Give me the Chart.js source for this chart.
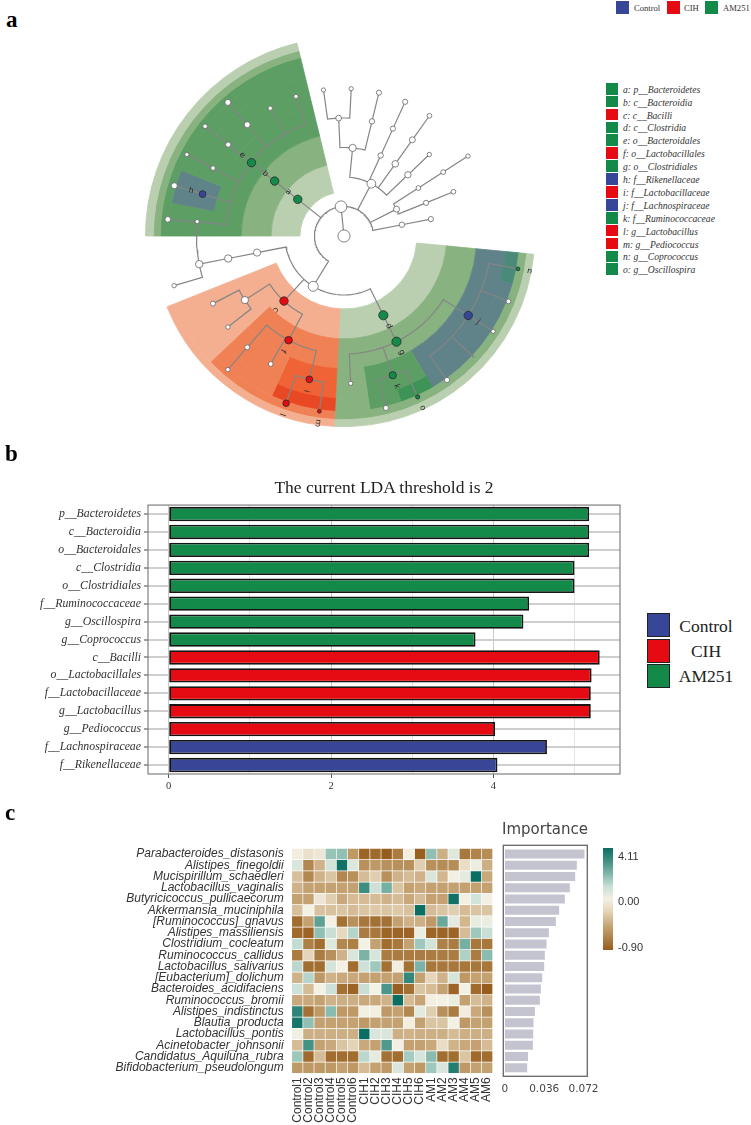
<!DOCTYPE html>
<html>
<head>
<meta charset="utf-8">
<script src="https://cdn.jsdelivr.net/npm/chart.js@4"></script>
<style>
  body { margin: 0; background: #fff; }
  #page { position: relative; width: 751px; height: 1125px; overflow: hidden; }
  canvas { position: absolute; }
  .txt { position: absolute; white-space: nowrap; line-height: 1; }
  .box { position: absolute; }
</style>
</head>
<body>
<div id="page">
  <canvas id="rings" width="398" height="398" style="left:145px;top:37px"></canvas>
  <canvas id="tree" width="398" height="398" style="left:145px;top:37px"></canvas>
  <canvas id="lda" width="640" height="300" style="left:0;top:495px"></canvas>
  <canvas id="heat" width="510" height="285" style="left:0;top:840px"></canvas>
  <canvas id="importance" width="110" height="285" style="left:495px;top:840px"></canvas>
</div>
<script>
// groups
const groups = ['Control', 'CIH', 'AM251'];
const groupColor = { Control: '#374696', CIH: '#e60b12', AM251: '#148a4a' };

// cladogram key
const cladeKey = ['a: p__Bacteroidetes', 'b: c__Bacteroidia', 'c: c__Bacilli', 'd: c__Clostridia', 'e: o__Bacteroidales',
  'f: o__Lactobacillales', 'g: o__Clostridiales', 'h: f__Rikenellaceae', 'i: f__Lactobacillaceae', 'j: f__Lachnospiraceae',
  'k: f__Ruminococcaceae', 'l: g__Lactobacillus', 'm: g__Pediococcus', 'n: g__Coprococcus', 'o: g__Oscillospira'];
const cladeKeyGroup = ['AM251', 'AM251', 'CIH', 'AM251', 'AM251', 'CIH', 'AM251', 'Control', 'CIH', 'Control',
  'AM251', 'CIH', 'CIH', 'AM251', 'AM251'];

// shaded rings, outermost first: where each slice ends (degrees from top) and what it is
const ringEnds = [
  [270, 346.3, 360],
  [95.5, 183, 248.2, 270, 346.3, 360],
  [95.5, 183, 226.7, 248.2, 270, 346.3, 360],
  [95.5, 106, 149.7, 161, 171.5, 183, 204.3, 226.7, 248.2, 270, 281, 292, 346.3, 360],
  [95.5, 149.7, 171.5, 183, 204.3, 226.7, 248.2, 270, 281, 292, 346.3, 360],
  [95.5, 183, 226.7, 248.2, 270, 346.3, 360],
  [95.5, 183, 248.2, 270, 346.3, 360],
  [270, 346.3, 360]
];
const ringKinds = [
  ['', 'L', ''],
  ['', 'L', 'O1', '', 'M', ''],
  ['', 'M', 'O2', 'O1', '', 'D', ''],
  ['', 'T', 'B', 'G', 'D', 'M', 'O4', 'O2', 'O1', '', 'D', 'B', 'D', ''],
  ['', 'B', 'D', 'M', 'O3', 'O2', 'O1', '', 'D', 'B', 'D', ''],
  ['', 'M', 'O2', 'O1', '', 'D', ''],
  ['', 'L', 'O1', '', 'M', ''],
  ['', 'L', '']
];
const ringWidths = [8, 7, 8, 13, 30, 30, 30, 29];

// tree nodes: angle from top, taxonomic level, parent, enriched group, abundance, letter
const nodeAngle = [0, 354.2,
  308.4, 308.4, 308.4, 319, 319, 308.3, 308.3, 330, 341, 297.4, 297.4, 286.5, 286.5, 275.6,
  211.5, 222.7, 237.1, 242.7, 231.9, 208, 221, 221, 209.8, 193.6, 199.1, 188,
  153.6, 153.6, 177.4, 160.7, 166.3, 155.4, 122.6, 144.4, 122.6, 111.7, 100.7, 133,
  259.2, 259, 259, 275.4, 253.7,
  27.6, 5.6, 357.4, 352, 2.8, 13.7, 13.7, 24.5, 24.5, 24.5, 35.4, 35.4, 35.4, 46.2, 46.3,
  62.9, 57.2, 57.2, 57.2, 68, 68, 79, 79];
const nodeLevel = [0, 1,
  2, 3, 4, 5, 6, 5, 6, 5, 5, 5, 6, 5, 6, 5,
  2, 3, 4, 5, 5, 4, 5, 6, 5, 5, 6, 6,
  3, 4, 5, 5, 6, 6, 5, 6, 6, 6, 6, 6,
  3, 4, 5, 6, 6,
  2, 3, 4, 5, 5, 4, 5, 3, 4, 5, 3, 4, 5, 3, 4,
  2, 3, 4, 5, 3, 4, 2, 3];
const nodeParent = [-1, 0,
  1, 2, 3, 4, 5, 4, 7, 4, 4, 4, 11, 4, 13, 4,
  1, 16, 17, 18, 18, 17, 21, 22, 21, 21, 25, 25,
  16, 28, 29, 29, 31, 31, 29, 34, 34, 34, 34, 34,
  16, 40, 41, 42, 42,
  1, 45, 46, 47, 47, 46, 50, 45, 52, 53, 45, 55, 56, 45, 58,
  1, 60, 61, 62, 60, 64, 1, 66];
const nodeGroup = ['', '',
  'AM251', 'AM251', 'AM251', '', '', '', '', '', '', '', '', 'Control', '', '',
  '', 'CIH', '', '', '', 'CIH', '', '', '', 'CIH', 'CIH', 'CIH',
  'AM251', 'AM251', '', 'AM251', '', 'AM251', 'Control', '', '', '', 'AM251', '',
  '', '', '', '', '',
  '', '', '', '', '', '', '', '', '', '', '', '', '', '', '',
  '', '', '', '', '', '', '', ''];
const nodeAbundance = [61, 58,
  42, 42, 42, 30, 30, 26, 23, 22, 22, 23, 21, 34, 30, 21,
  50, 42, 36, 25, 22, 38, 25, 22, 24, 34, 33, 19,
  46, 46, 21, 36, 26, 21, 42, 26, 21, 24, 19, 7,
  36, 37, 37, 28, 22,
  44, 36, 29, 21, 21, 27, 26, 27, 26, 26, 33, 30, 24, 32, 22,
  30, 24, 24, 22, 26, 24, 27, 26];
const nodeLetter = ['', '',
  'a', 'b', 'e', '', '', '', '', '', '', '', '', 'h', '', '',
  '', 'c', '', '', '', 'f', '', '', '', 'i', 'l', 'm',
  'd', 'g', '', 'k', '', 'o', 'j', '', '', '', 'n', ''];
const levelRadius = [0, 29.5, 59, 88.5, 118, 147.5, 177];

// LDA bars
const barTaxa = ['p__Bacteroidetes', 'c__Bacteroidia', 'o__Bacteroidales', 'c__Clostridia', 'o__Clostridiales',
  'f__Ruminococcaceae', 'g__Oscillospira', 'g__Coprococcus', 'c__Bacilli', 'o__Lactobacillales', 'f__Lactobacillaceae',
  'g__Lactobacillus', 'g__Pediococcus', 'f__Lachnospiraceae', 'f__Rikenellaceae'];
const barValues = [5.18, 5.18, 5.18, 5.0, 5.0, 4.44, 4.37, 3.78, 5.31, 5.21, 5.2, 5.2, 4.02, 4.66, 4.05];
const barGroup = ['AM251', 'AM251', 'AM251', 'AM251', 'AM251', 'AM251', 'AM251', 'AM251',
  'CIH', 'CIH', 'CIH', 'CIH', 'CIH', 'Control', 'Control'];
const ldaTicks = [0, 1, 2, 3, 4, 5];

// heatmap
const samples = ['Control1', 'Control2', 'Control3', 'Control4', 'Control5', 'Control6', 'CIH1', 'CIH2', 'CIH3', 'CIH4',
  'CIH5', 'CIH6', 'AM1', 'AM2', 'AM3', 'AM4', 'AM5', 'AM6'];
const species = ['Parabacteroides_distasonis', 'Alistipes_finegoldii', 'Mucispirillum_schaedleri', 'Lactobacillus_vaginalis',
  'Butyricicoccus_pullicaecorum', 'Akkermansia_muciniphila', '[Ruminococcus]_gnavus', 'Alistipes_massiliensis',
  'Clostridium_cocleatum', 'Ruminococcus_callidus', 'Lactobacillus_salivarius', '[Eubacterium]_dolichum',
  'Bacteroides_acidifaciens', 'Ruminococcus_bromii', 'Alistipes_indistinctus', 'Blautia_producta', 'Lactobacillus_pontis',
  'Acinetobacter_johnsonii', 'Candidatus_Aquiluna_rubra', 'Bifidobacterium_pseudolongum'];
const heatValues = [
  [-0.03, -0.12, -0.08, 1.7, 1.8, -0.55, -0.85, -0.82, -0.9, -0.72, -0.03, -0.88, 1.8, -0.42, 0.5, -0.75, -0.68, -0.62],
  [0.6, -0.65, -0.4, 0.8, 4.0, 0.55, -0.6, -0.55, -0.6, -0.6, -0.6, -0.25, -0.6, -0.62, -0.62, -0.15, 0.2, -0.42],
  [-0.33, -0.65, -0.4, -0.3, -0.65, -0.6, -0.35, -0.25, -0.6, -0.4, -0.35, -0.4, 0.6, -0.38, 0.05, 0.4, 4.1, -0.45],
  [-0.4, -0.5, -0.5, -0.5, -0.5, -0.5, 3.1, 0.9, 2.2, -0.3, -0.5, -0.45, -0.5, -0.5, -0.5, -0.5, -0.5, -0.5],
  [-0.5, -0.5, -0.08, -0.25, -0.45, -0.35, -0.35, -0.35, -0.4, -0.35, -0.45, -0.35, -0.5, -0.5, 4.0, 0.08, 0.8, 0.05],
  [-0.33, 0.03, -0.32, -0.32, -0.3, -0.35, -0.3, -0.28, -0.3, -0.28, -0.32, 4.11, -0.35, -0.3, -0.25, -0.35, -0.3, -0.3],
  [-0.8, -0.5, 2.6, 0.0, -0.78, -0.6, -0.75, -0.78, -0.78, -0.5, -0.4, -0.42, -0.55, 2.4, 0.4, -0.38, 0.3, 0.2],
  [-0.82, -0.85, 1.8, 1.0, -0.18, 1.3, -0.72, -0.75, -0.85, -0.85, -0.85, 0.2, -0.85, -0.85, -0.85, -0.35, 1.6, 1.0],
  [1.1, -0.7, -0.8, 0.5, -0.65, -0.7, 0.02, -0.5, -0.8, -0.75, -0.5, 1.6, 0.8, -0.7, -0.72, 2.2, -0.75, -0.75],
  [-0.72, -0.2, -0.72, -0.6, -0.4, 0.6, 2.1, 0.7, -0.72, -0.72, -0.72, -0.72, -0.72, -0.72, -0.72, 1.4, -0.72, 1.9],
  [1.2, -0.8, -0.8, 0.7, 0.02, -0.8, 0.9, 1.6, -0.78, -0.03, -0.78, 2.1, -0.75, -0.75, -0.75, -0.75, -0.75, -0.75],
  [-0.4, 1.3, -0.55, -0.4, -0.45, -0.45, -0.5, -0.5, -0.5, -0.5, 3.3, -0.5, -0.2, -0.4, 0.7, -0.55, -0.5, -0.5],
  [0.9, -0.35, 0.02, 0.9, -0.78, -0.85, 1.0, 0.03, 2.9, -0.88, -0.78, -0.3, -0.35, -0.5, -0.85, 0.02, -0.82, -0.9],
  [-0.45, -0.45, -0.5, -0.4, -0.42, -0.42, -0.45, -0.45, -0.4, 4.11, -0.35, -0.48, -0.02, 0.03, 0.2, -0.5, -0.35, -0.4],
  [3.4, -0.78, -0.55, 1.9, -0.55, -0.55, 0.05, -0.02, -0.55, -0.5, -0.65, 0.4, -0.25, -0.6, -0.72, -0.03, -0.45, -0.6],
  [3.9, 1.8, -0.5, -0.5, -0.5, -0.5, -0.55, -0.5, -0.5, -0.5, -0.02, -0.5, -0.3, -0.3, 0.02, -0.55, -0.5, -0.5],
  [0.1, -0.42, -0.42, -0.42, -0.42, -0.42, 4.11, 0.6, 0.6, -0.42, -0.4, -0.42, -0.42, -0.42, -0.35, -0.42, -0.42, -0.42],
  [-0.35, 3.0, -0.5, -0.45, -0.3, -0.22, -0.45, -0.5, 2.8, 0.05, -0.5, -0.5, -0.45, -0.15, -0.4, -0.45, -0.5, -0.35],
  [1.6, -0.82, -0.35, -0.8, -0.8, -0.8, 1.2, 0.35, -0.78, -0.8, 1.5, 0.7, 1.9, -0.8, -0.8, -0.3, -0.82, -0.8],
  [-0.55, -0.55, -0.55, -0.55, -0.5, -0.55, -0.35, -0.5, -0.55, 0.6, -0.5, -0.55, 1.6, 0.6, 3.6, -0.55, -0.5, -0.5]
];

// importance bars
const importance = [0.0729, 0.0659, 0.0644, 0.0595, 0.0549, 0.0497, 0.0467, 0.0403, 0.0381, 0.0366,
  0.036, 0.0342, 0.0329, 0.032, 0.0275, 0.0262, 0.0259, 0.0256, 0.0211, 0.0204];
const importanceTicks = [0, 0.036, 0.072];
const colorbarLabels = ['4.11', '0.00', '-0.90'];

Chart.defaults.animation = false;
Chart.defaults.responsive = false;
Chart.defaults.maintainAspectRatio = false;
Chart.defaults.plugins.legend.display = false;
Chart.defaults.plugins.tooltip.enabled = false;

const page = document.getElementById('page');
const serif = '"Liberation Serif", serif';
const sans = '"Liberation Sans", sans-serif';
const dejavu = '"DejaVu Sans", sans-serif';

function addText(text, left, top, css) {
  const d = document.createElement('div');
  d.className = 'txt';
  d.textContent = text;
  d.style.left = left + 'px';
  d.style.top = top + 'px';
  d.style.cssText += css;
  page.appendChild(d);
  return d;
}
function addBox(left, top, w, h, css) {
  const d = document.createElement('div');
  d.className = 'box';
  d.style.cssText += 'left:' + left + 'px;top:' + top + 'px;width:' + w + 'px;height:' + h + 'px;' + css;
  page.appendChild(d);
}
function framePlugin(color, width, pad) {
  return {
    id: 'frame',
    afterDraw(chart) {
      const a = chart.chartArea, c = chart.ctx;
      c.save();
      c.strokeStyle = color;
      c.lineWidth = width;
      c.strokeRect(a.left, a.top - pad, a.right - a.left, a.bottom - a.top + 2 * pad);
      c.restore();
    }
  };
}

// panel letters
addText('a', 6, 7, 'font:bold 23px ' + serif);
addText('b', 5, 441, 'font:bold 23px ' + serif);
addText('c', 5, 800, 'font:bold 23px ' + serif);

// top legend
[[616, 634, 8.6], [667, 684, 8.6], [705, 723, 8.6]].forEach((p, i) => {
  addBox(p[0], 1, 13, 12.5, 'background:' + groupColor[groups[i]]);
  addText(groups[i], p[1], 3, 'font:' + p[2] + 'px ' + serif + ';color:#333');
});

// clade key
cladeKey.forEach((t, i) => {
  const y = 88.7 + 12.9 * i;
  addBox(606, y - 5.9, 12.3, 11.8, 'background:' + groupColor[cladeKeyGroup[i]]);
  addText(t, 623, y - 5, 'font:italic 9.6px ' + serif + ';color:#333');
});

// shaded rings
const ringFill = { L: '#b9cfb0', M: '#88b27f', D: '#5c9e64', B: '#5f8389', T: '#4a8a78', G: '#3e9457',
  O1: '#f4ae90', O2: '#f08155', O3: '#ef6336', O4: '#e94825', '': 'rgba(0,0,0,0)' };
new Chart(document.getElementById('rings'), {
  type: 'doughnut',
  data: {
    datasets: ringEnds.map((ends, i) => ({
      data: ends.map((e, j) => e - (j ? ends[j - 1] : 0)),
      backgroundColor: ringKinds[i].map(k => ringFill[k]),
      borderColor: ringKinds[i].map(k => ringFill[k]),
      borderWidth: 0.8,
      weight: ringWidths[i]
    }))
  },
  options: { cutout: 44, layout: { autoPadding: false } }
});

// tree
function polar(angle, radius) {
  const a = angle * Math.PI / 180;
  return { x: radius * Math.sin(a), y: radius * Math.cos(a) };
}
const edgePoints = [];
nodeParent.forEach((p, i) => {
  if (p < 0) return;
  const r0 = levelRadius[nodeLevel[p]];
  edgePoints.push(polar(nodeAngle[i], levelRadius[nodeLevel[i]]));
  edgePoints.push(polar(nodeAngle[i], r0));
  if (r0 > 0) {
    let d = nodeAngle[p] - nodeAngle[i];
    if (d > 180) d -= 360;
    if (d < -180) d += 360;
    const steps = Math.ceil(Math.abs(d) / 2);
    for (let s = 1; s <= steps; s++) edgePoints.push(polar(nodeAngle[i] + d * s / steps, r0));
  }
  edgePoints.push({ x: null, y: null });
});
new Chart(document.getElementById('tree'), {
  type: 'scatter',
  data: {
    datasets: [
      {
        data: nodeAngle.map((a, i) => polar(a, levelRadius[nodeLevel[i]])),
        pointRadius: nodeAbundance.map(v => v / 10),
        pointBackgroundColor: nodeGroup.map(g => g ? groupColor[g] : '#fff'),
        pointBorderColor: nodeGroup.map(g => g ? '#2a2a2a' : '#666'),
        pointBorderWidth: 0.8,
        clip: false
      },
      {
        data: edgePoints,
        showLine: true,
        pointRadius: 0,
        borderColor: '#858585',
        borderWidth: 1.2,
        clip: false
      }
    ]
  },
  options: {
    layout: { padding: 0, autoPadding: false },
    scales: {
      x: { display: false, min: -199, max: 199 },
      y: { display: false, min: -199, max: 199 }
    }
  },
  plugins: [{
    id: 'letters',
    afterDatasetsDraw(chart) {
      const c = chart.ctx;
      c.save();
      c.font = '8px ' + dejavu;
      c.fillStyle = '#2a2a2a';
      c.textAlign = 'center';
      c.textBaseline = 'middle';
      nodeLetter.forEach((t, i) => {
        if (!t) return;
        const p = polar(nodeAngle[i], levelRadius[nodeLevel[i]] + 12);
        const turn = nodeAngle[i] > 265 ? nodeAngle[i] - 270 : nodeAngle[i] - 90;
        c.save();
        c.translate(chart.scales.x.getPixelForValue(p.x), chart.scales.y.getPixelForValue(p.y));
        c.rotate(turn * Math.PI / 180);
        c.fillText(t, 0, 0);
        c.restore();
      });
      c.restore();
    }
  }]
});

// LDA bar chart
addText('The current LDA threshold is 2', 384, 477, 'font:17.5px ' + serif + ';color:#222;transform:translateX(-50%)');
new Chart(document.getElementById('lda'), {
  type: 'bar',
  data: {
    labels: barTaxa,
    datasets: [{
      data: barValues,
      backgroundColor: barGroup.map(g => groupColor[g]),
      borderColor: '#141414',
      borderWidth: 1.8,
      borderSkipped: false,
      barPercentage: 0.8,
      categoryPercentage: 1
    }]
  },
  options: {
    indexAxis: 'y',
    layout: { padding: { top: 6.7, right: 20, bottom: 0, left: 0 } },
    scales: {
      x: {
        min: -0.255,
        max: 5.56,
        afterBuildTicks(s) { s.ticks = ldaTicks.map(value => ({ value })); },
        afterFit(s) { s.height = 21; },
        grid: {
          color: c => c.tick && c.tick.value % 2 === 0 ? '#c8c8c8' : '#e4e4e4',
          tickColor: c => c.tick && c.tick.value % 2 === 0 ? '#555' : 'rgba(0,0,0,0)',
          tickLength: 4
        },
        border: { display: false },
        ticks: {
          autoSkip: false,
          maxRotation: 0,
          padding: 2,
          color: '#333',
          font: { family: serif, size: 10.5 },
          callback: v => v % 2 === 0 ? v : ''
        }
      },
      y: {
        afterFit(s) { s.width = 148; },
        grid: { offset: false, color: '#cfcfcf', lineWidth: 2, tickColor: '#444', tickWidth: 1, tickLength: 4 },
        border: { display: false },
        ticks: {
          autoSkip: false,
          padding: 3,
          color: '#333',
          font: { family: serif, size: 11.8, style: 'italic' }
        }
      }
    }
  },
  plugins: [framePlugin('#808080', 1.2, 0)]
});

// LDA legend
[[613.3, 625], [639, 650], [664, 675]].forEach((p, i) => {
  addBox(646.6, p[0], 21, 21.5, 'background:' + groupColor[groups[i]] + ';border:1.2px solid #222');
  addText(groups[i], 706, p[1] - 9, 'font:17.5px ' + serif + ';color:#222;transform:translateX(-50%)');
});

// heatmap
const negStops = ['#f4f1e4', '#e3d3b6', '#c9a97c', '#b0844a', '#965c1c'];
const posStops = ['#f4f1e4', '#c8dfd6', '#7fb5a8', '#3e8f82', '#0b6e62'];
function rgb(h) { return [1, 3, 5].map(i => parseInt(h.substr(i, 2), 16)); }
function heatColor(v) {
  const stops = v < 0 ? negStops : posStops;
  const t = Math.min(1, v < 0 ? -v / 0.9 : v / 4.11) * (stops.length - 1);
  const i = Math.min(stops.length - 2, Math.floor(t));
  const a = rgb(stops[i]), b = rgb(stops[i + 1]), f = t - i;
  return 'rgb(' + a.map((x, k) => Math.round(x + (b[k] - x) * f)).join(',') + ')';
}
const heatCells = [];
heatValues.forEach((row, r) => row.forEach((v, c) => heatCells.push({ x: samples[c], y: species[r], v })));
new Chart(document.getElementById('heat'), {
  type: 'scatter',
  data: {
    datasets: [{
      data: heatCells,
      pointStyle: 'rect',
      pointRadius: 7.4,
      pointBorderWidth: 0,
      pointBackgroundColor: c => heatColor(c.raw.v)
    }]
  },
  options: {
    layout: { padding: { top: 8.3, right: 17.3, bottom: 0, left: 0 }, autoPadding: false },
    scales: {
      x: {
        type: 'category',
        labels: samples,
        offset: true,
        afterFit(s) { s.height = 51.7; },
        grid: { display: false, drawTicks: true, tickLength: 4 },
        border: { display: false },
        ticks: { autoSkip: false, minRotation: 90, maxRotation: 90, padding: 0, color: '#333', font: { family: sans, size: 12 } }
      },
      y: {
        type: 'category',
        labels: species,
        offset: true,
        afterFit(s) { s.width = 291.7; },
        grid: { display: false },
        border: { display: false },
        ticks: { autoSkip: false, padding: 0, color: '#333', font: { family: sans, size: 12, style: 'italic' } }
      }
    }
  }
});

// importance bars
addText('Importance', 502, 820, 'font:15px ' + dejavu + ';color:#444');
new Chart(document.getElementById('importance'), {
  type: 'bar',
  data: {
    labels: species,
    datasets: [{ data: importance, backgroundColor: '#c3c4cf', barPercentage: 0.8, categoryPercentage: 1 }]
  },
  options: {
    indexAxis: 'y',
    layout: { padding: { top: 8.3, right: 17.7, bottom: 0, left: 8.3 }, autoPadding: false },
    scales: {
      x: {
        min: -0.0015,
        max: 0.0755,
        afterBuildTicks(s) { s.ticks = importanceTicks.map(value => ({ value })); },
        afterFit(s) { s.height = 51.7; },
        grid: { display: false, drawTicks: true, tickLength: 10 },
        border: { display: false },
        ticks: {
          autoSkip: false,
          maxRotation: 0,
          padding: 0,
          color: '#444',
          font: { family: dejavu, size: 10.5 },
          callback: v => v === 0 ? '0' : v.toFixed(3)
        }
      },
      y: { display: false }
    }
  },
  plugins: [framePlugin('#666', 1.3, 3)]
});

// colour bar
addBox(602.7, 848, 10, 102, 'background:linear-gradient(to bottom,' + posStops.slice().reverse().join(',') + ' 50%,' +
  negStops.slice(1).join(',') + ')');
[855, 900.7, 946.7].forEach((y, i) => {
  addText(colorbarLabels[i], 618, y - 5.5, 'font:11px ' + sans + ';color:#333');
});
</script>
</body>
</html>
